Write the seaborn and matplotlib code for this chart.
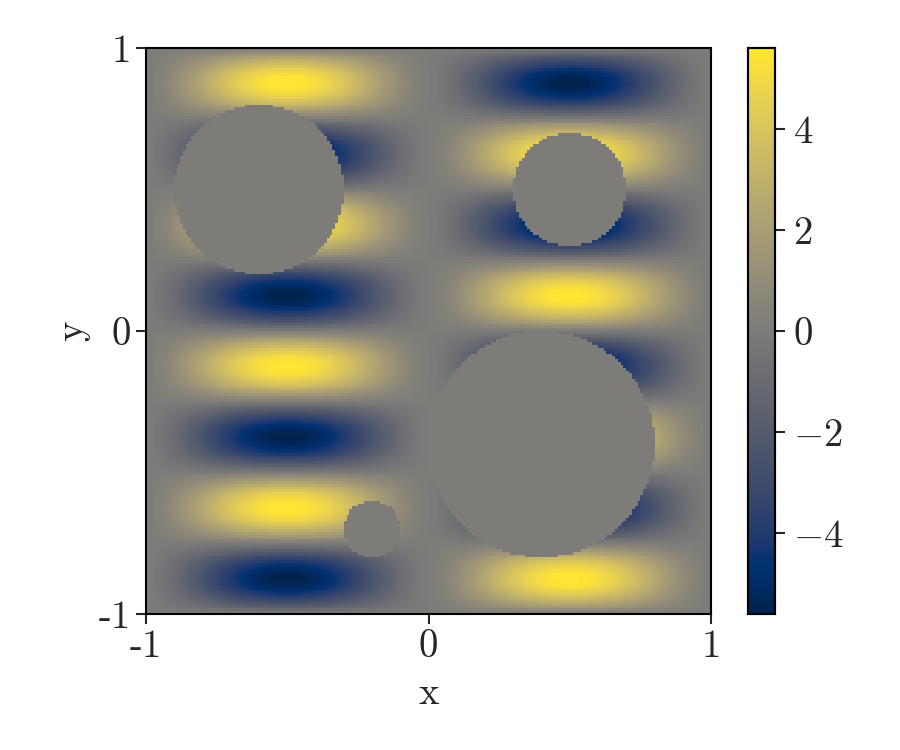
import numpy as np
import pandas as pd
import matplotlib
matplotlib.use("Agg")
import matplotlib.pyplot as plt
import seaborn as sns

# campo u(x,y) = A * s|s|^(p-1) * sin(4 pi y), con s = sin(pi x); agujeros circulares con u = 0
amplitud = 5.6
potencia_x = 1.5
frec_y = 4
n_puntos = 200
centros_x = [-0.6, 0.5, 0.4, -0.2]
centros_y = [0.5, 0.5, -0.4, -0.7]
radios = [0.3, 0.2, 0.4, 0.1]
ticks_eje = [-1, 0, 1]
etiquetas_eje = ["-1", "0", "1"]
ticks_barra = [-4, -2, 0, 2, 4]
vmin, vmax = -5.6, 5.6

# malla (centros de celda)
xs = -1 + (np.arange(n_puntos) + 0.5) * 2 / n_puntos
ys = -1 + (np.arange(n_puntos) + 0.5) * 2 / n_puntos
X, Y = np.meshgrid(xs, ys)
s = np.sin(np.pi * X)
U = amplitud * s * np.abs(s) ** (potencia_x - 1) * np.sin(frec_y * np.pi * Y)
for cx, cy, r in zip(centros_x, centros_y, radios):
    U[(X - cx) ** 2 + (Y - cy) ** 2 <= r ** 2] = 0.0

df = pd.DataFrame(U[::-1], index=ys[::-1], columns=xs)  # fila 0 arriba = y=1

sns.set_style("white")
plt.rcParams["font.family"] = ["cmr10", "DejaVu Serif"]
plt.rcParams["mathtext.fontset"] = "cm"
plt.rcParams["axes.unicode_minus"] = False

fig = plt.figure(figsize=(9, 7.5), dpi=100)
ax = fig.add_axes([146 / 900, 1 - 614 / 750, 565 / 900, 566 / 750])
cax = fig.add_axes([748 / 900, 1 - 614 / 750, 27 / 900, 566 / 750])

sns.heatmap(df, cmap="cividis", vmin=vmin, vmax=vmax, ax=ax, cbar_ax=cax,
            xticklabels=False, yticklabels=False, rasterized=True)

fs = 28
# posiciones de los ticks en coordenadas de celda
pos_x = [(t + 1) / 2 * n_puntos for t in ticks_eje]
pos_y = [(1 - t) / 2 * n_puntos for t in ticks_eje]
ax.set_xticks(pos_x)
ax.set_xticklabels(etiquetas_eje, fontsize=fs)
ax.set_yticks(pos_y)
ax.set_yticklabels(etiquetas_eje, fontsize=fs, rotation=0)
ax.tick_params(direction="out", length=7, width=1.5, bottom=True, left=True, pad=4)
for sp in ax.spines.values():
    sp.set_visible(True)
    sp.set_linewidth(1.5)
    sp.set_color("black")
ax.set_xlabel("x", fontsize=fs, labelpad=8)
ax.set_ylabel("y", fontsize=fs, labelpad=6)

cax.set_yticks(ticks_barra)
cax.set_yticklabels([f"${t}$" for t in ticks_barra], fontsize=fs)
cax.tick_params(direction="out", length=7, width=1.5, right=True, left=False, pad=6)
for sp in cax.spines.values():
    sp.set_visible(True)
    sp.set_linewidth(1.5)
cbar = ax.collections[0].colorbar
cbar.outline.set_linewidth(1.5)
cbar.outline.set_edgecolor("black")

plt.savefig("out.png", dpi=100)
